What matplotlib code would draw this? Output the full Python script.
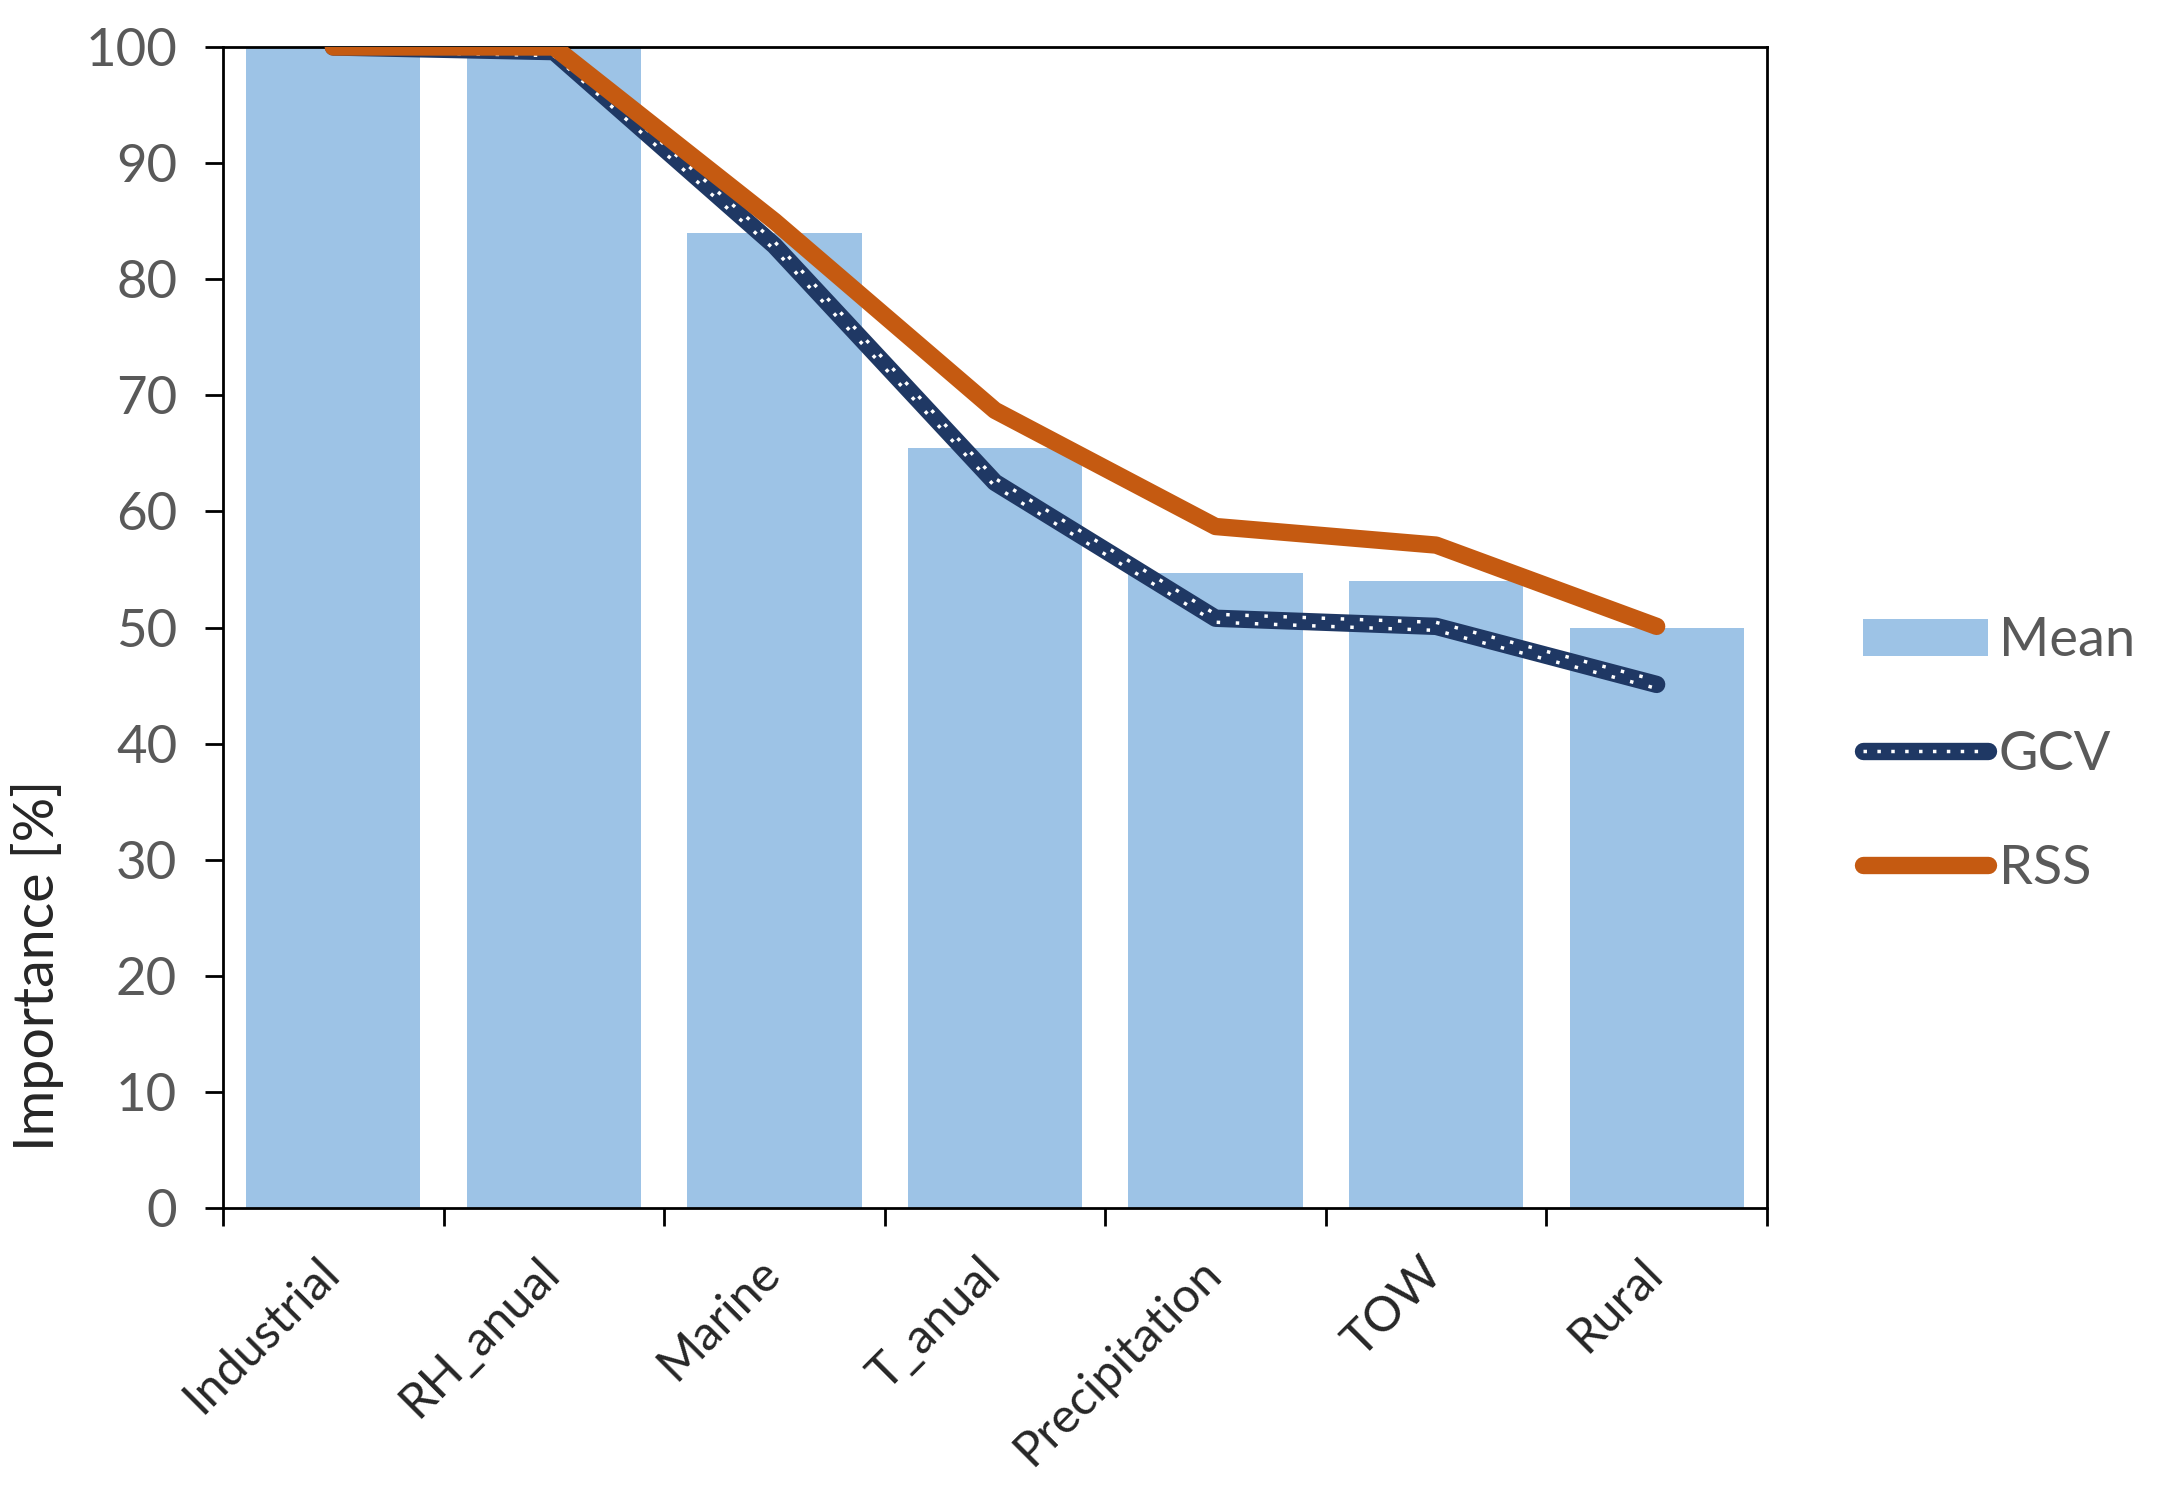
import matplotlib.pyplot as plt
import matplotlib.transforms as mtransforms
import numpy as np
from matplotlib.lines import Line2D
from matplotlib.legend_handler import HandlerTuple

plt.rcParams['font.family'] = ['Lato', 'DejaVu Sans']

# data
categories = ["Industrial", "RH_anual", "Marine", "T_anual", "Precipitation", "TOW", "Rural"]
mean_vals = [100, 100, 84, 65.5, 54.7, 54, 50]
gcv_vals = [100, 99.6, 82.9, 62.5, 50.8, 50.1, 45.1]
rss_vals = [100, 100, 85, 68.7, 58.7, 57.1, 50.1]

fig = plt.figure(figsize=(21.59, 14.92), dpi=100)
ax = fig.add_axes([0.1033, 0.1903, 0.7151, 0.7782])

x = np.arange(len(categories))
ax.bar(x, mean_vals, width=0.79, color="#9DC3E6", label="Mean", zorder=1)

# GCV: dark line with two rows of white dots on top
gcv_line, = ax.plot(x, gcv_vals, color="#1F3864", lw=12.5, solid_capstyle="round",
                    solid_joinstyle="round", zorder=2)
for dy, off in [(0.04, 0), (-0.04, 2.75)]:
    tr = ax.transData + mtransforms.ScaledTranslation(0, dy, fig.dpi_scale_trans)
    ax.plot(x, gcv_vals, color="white", lw=2.5, ls=(off, (1, 4.5)),
            transform=tr, zorder=3)
rss_line, = ax.plot(x, rss_vals, color="#C55A11", lw=12.5, solid_capstyle="round",
                    solid_joinstyle="round", zorder=4)

ax.set_xlim(-0.5, 6.5)
ax.set_ylim(0, 100)
ax.set_yticks(range(0, 101, 10))
ax.tick_params(axis="y", direction="out", length=13, width=2, labelsize=38,
               labelcolor="#595959", pad=20)

ax.set_xticks(x)
ax.set_xticklabels(categories, rotation=45, ha="right", va="top", fontsize=35,
                   color="#262626")
ax.tick_params(axis="x", which="major", length=0, pad=30)
ax.set_xticks(np.arange(-0.5, 7, 1), minor=True)
ax.tick_params(axis="x", which="minor", direction="out", length=13, width=2)
offset = mtransforms.ScaledTranslation(0.14, 0, fig.dpi_scale_trans)
for lab in ax.get_xticklabels():
    lab.set_transform(lab.get_transform() + offset)

for s in ax.spines.values():
    s.set_linewidth(2)

ax.set_ylabel("Importance [%]", fontsize=40, color="#262626")
ax.yaxis.set_label_coords(-0.103, 0.209)

# legend
gcv_dots = Line2D([], [], color="white", lw=2.5, ls=(0, (1, 3)))
bar_handle = ax.patches[0]
fig.legend([bar_handle, (gcv_line, gcv_dots), rss_line], ["Mean", "GCV", "RSS"],
           loc="center left", bbox_to_anchor=(0.863, 0.494), frameon=False,
           fontsize=39, labelcolor="#595959", handlelength=2.3, handletextpad=0.2,
           labelspacing=1.2, borderpad=0, borderaxespad=0,
           handler_map={tuple: HandlerTuple(ndivide=1, pad=0)})

fig.savefig("out.png", dpi=100)
